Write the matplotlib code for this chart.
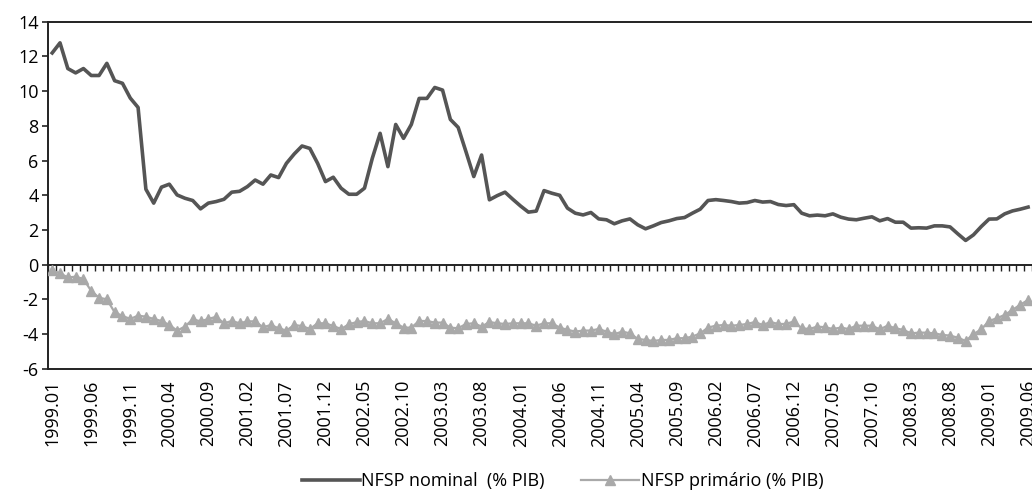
import matplotlib

matplotlib.use("Agg")
import matplotlib.pyplot as plt
import numpy as np

plt.rcParams["font.family"] = ["Open Sans", "DejaVu Sans"]

# monthly series, 1999.01 .. 2009.06 (% of GDP)
years = [1999 + m // 12 for m in range(126)]
months = [m % 12 + 1 for m in range(126)]
periods = [f"{y}.{mo:02d}" for y, mo in zip(years, months)]

nominal = [
    12.2, 12.78, 11.3, 11.05, 11.3, 10.9, 10.9, 11.6, 10.6, 10.45,
    9.6, 9.06, 4.35, 3.55, 4.47, 4.64, 4.02, 3.83, 3.7, 3.22,
    3.55, 3.64, 3.77, 4.18, 4.23, 4.5, 4.88, 4.64, 5.17, 5.02,
    5.84, 6.38, 6.84, 6.7, 5.84, 4.79, 5.04, 4.41, 4.06, 4.06,
    4.41, 6.13, 7.57, 5.65, 8.08, 7.28, 8.08, 9.58, 9.58, 10.21,
    10.06, 8.37, 7.91, 6.51, 5.08, 6.32, 3.74, 3.98, 4.18, 3.77,
    3.38, 3.03, 3.09, 4.27, 4.12, 4.0, 3.26, 2.97, 2.87, 3.01,
    2.64, 2.59, 2.36, 2.53, 2.64, 2.3, 2.07, 2.24, 2.43, 2.53,
    2.66, 2.72, 2.97, 3.2, 3.7, 3.75, 3.7, 3.64, 3.55, 3.58,
    3.7, 3.61, 3.64, 3.47, 3.41, 3.46, 2.97, 2.82, 2.86, 2.82,
    2.93, 2.74, 2.63, 2.59, 2.68, 2.76, 2.53, 2.66, 2.45, 2.45,
    2.11, 2.13, 2.11, 2.24, 2.24, 2.18, 1.78, 1.4, 1.72, 2.2,
    2.63, 2.64, 2.93, 3.1, 3.2, 3.32,
]

primario = [
    -0.31, -0.5, -0.73, -0.69, -0.82, -1.51, -1.9, -1.99, -2.74, -2.95,
    -3.12, -2.93, -2.99, -3.12, -3.24, -3.47, -3.79, -3.56, -3.14, -3.26,
    -3.12, -3.0, -3.37, -3.24, -3.37, -3.26, -3.26, -3.6, -3.47, -3.66,
    -3.79, -3.47, -3.53, -3.7, -3.37, -3.37, -3.53, -3.7, -3.43, -3.3,
    -3.24, -3.37, -3.37, -3.12, -3.37, -3.62, -3.62, -3.24, -3.24, -3.33,
    -3.33, -3.62, -3.66, -3.41, -3.37, -3.56, -3.3, -3.37, -3.41, -3.37,
    -3.37, -3.37, -3.51, -3.37, -3.37, -3.62, -3.75, -3.85, -3.79, -3.79,
    -3.7, -3.85, -4.0, -3.85, -3.95, -4.27, -4.33, -4.39, -4.33, -4.33,
    -4.23, -4.23, -4.14, -3.95, -3.62, -3.51, -3.47, -3.51, -3.47, -3.41,
    -3.3, -3.47, -3.3, -3.41, -3.41, -3.26, -3.66, -3.7, -3.56, -3.6,
    -3.7, -3.62, -3.7, -3.51, -3.51, -3.51, -3.72, -3.51, -3.66, -3.75,
    -3.95, -3.91, -3.91, -3.95, -4.04, -4.08, -4.2, -4.39, -4.0, -3.72,
    -3.24, -3.08, -2.89, -2.6, -2.3, -2.03,
]

DARK = "#555555"
LIGHT = "#a9a9a9"

x = np.arange(len(periods))

fig = plt.figure(figsize=(10.32, 5.04), dpi=100)
ax = fig.add_axes([0.0468, 0.268, 0.9532, 0.689])

ax.plot(x, nominal, color=DARK, lw=2.6, label="NFSP nominal  (% PIB)", zorder=3)
ax.plot(x, primario, color=LIGHT, lw=1.6, marker="^", ms=7, mec=LIGHT,
        label="NFSP primário (% PIB)", zorder=3)

ax.set_xlim(-0.5, len(periods) - 0.5)
ax.set_ylim(-6, 14)
ax.set_yticks(range(-6, 15, 2))
ax.set_yticklabels([str(v) for v in range(-6, 15, 2)], fontsize=13)
ax.tick_params(axis="y", direction="out", length=4, width=1.2, color="#222222", pad=3)

ax.set_xticks(x[::5])
ax.set_xticklabels(periods[::5], rotation=90, fontsize=13)
ax.tick_params(axis="x", length=0, pad=8)

for side in ("left", "bottom", "top"):
    ax.spines[side].set_linewidth(1.4)
    ax.spines[side].set_color("#222222")
ax.spines["right"].set_visible(False)

# category axis crossing at zero, with tick marks between categories
zero = ax.secondary_xaxis(0, transform=ax.transData)
zero.set_xticks(np.arange(-0.5, len(periods), 1))
zero.set_xticklabels([])
zero.tick_params(direction="out", length=4, width=1, color="#222222")
zero.spines["bottom"].set_linewidth(1.4)
zero.spines["bottom"].set_color("#222222")

fig.legend(loc="lower center", bbox_to_anchor=(0.545, -0.005), ncol=2, frameon=False,
           fontsize=13, handlelength=3.2, handletextpad=0.1, columnspacing=2.0)

fig.savefig("out.png", dpi=100)
